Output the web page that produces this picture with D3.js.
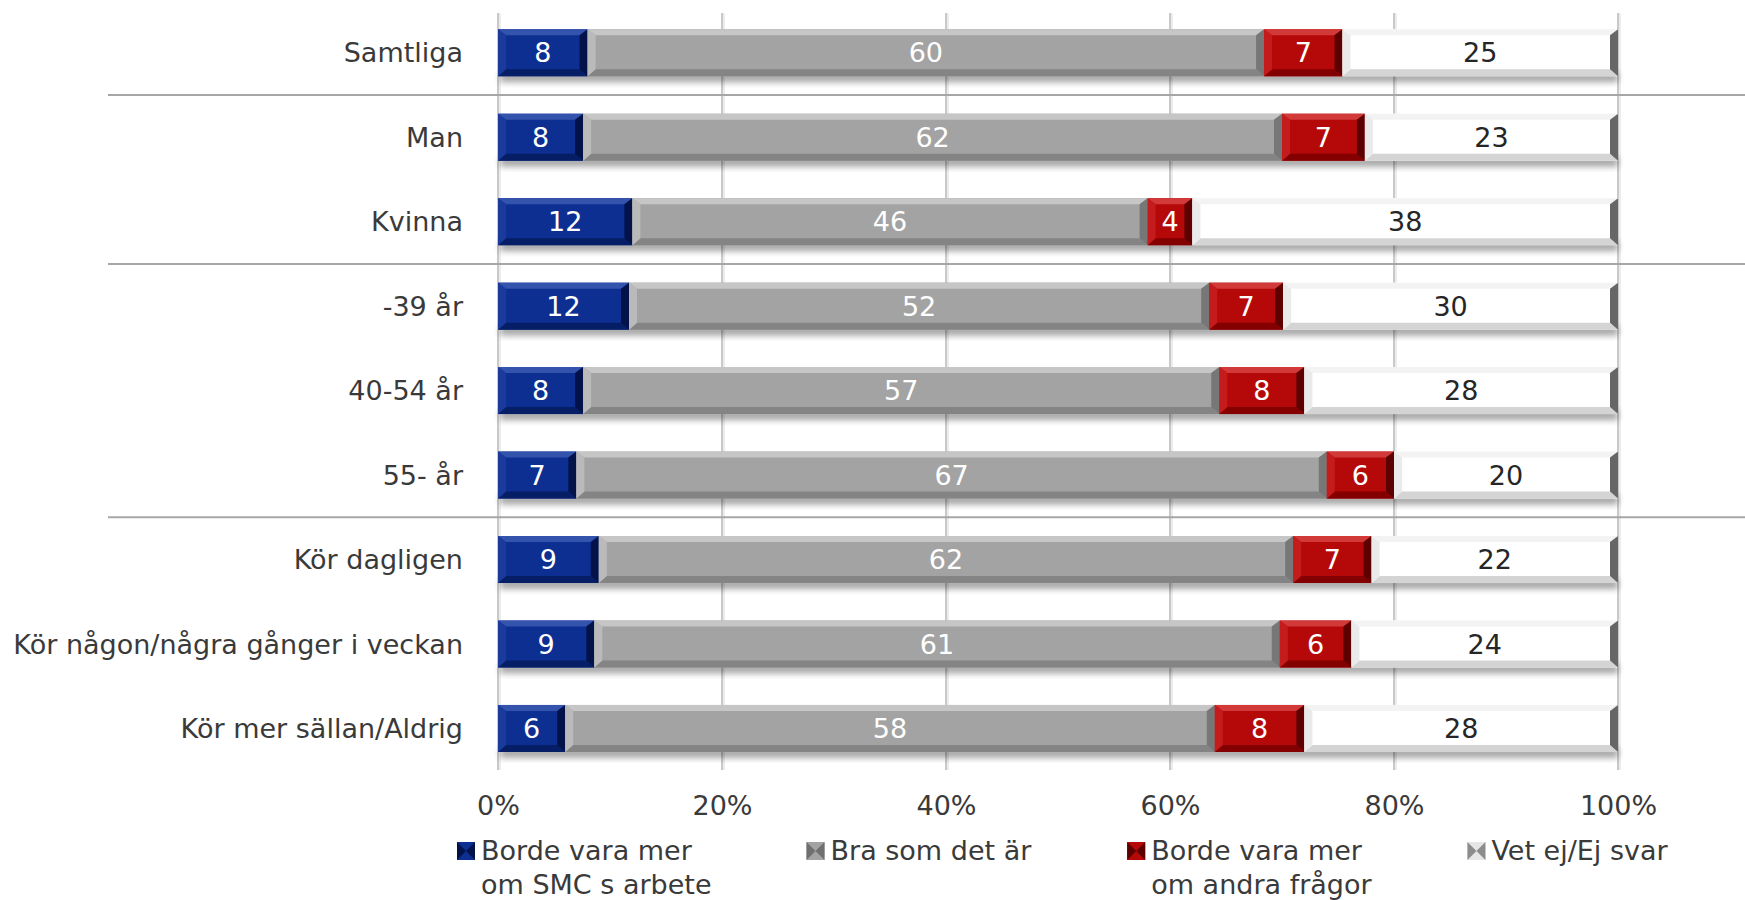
<!DOCTYPE html>
<html>
<head>
<meta charset="utf-8">
<script src="https://cdn.jsdelivr.net/npm/d3@7"></script>
<style>
  html, body { margin: 0; padding: 0; background: #ffffff; }
  svg { display: block; font-family: "DejaVu Sans", Verdana, sans-serif; }
</style>
</head>
<body>
<svg id="chart" width="1745" height="900"></svg>
<script>
// ---- data -------------------------------------------------------------
const categories = [
  "Samtliga", "Man", "Kvinna", "-39 år", "40-54 år", "55- år",
  "Kör dagligen", "Kör någon/några gånger i veckan", "Kör mer sällan/Aldrig"
];
const seriesLabels = [
  ["Borde vara mer", "om SMC s arbete"],
  ["Bra som det är"],
  ["Borde vara mer", "om andra frågor"],
  ["Vet ej/Ej svar"]
];
const moreAboutSmc   = [8, 7.6, 12, 11.7, 7.6, 7, 9, 8.6, 6];
const goodAsItIs     = [60.4, 62.4, 46, 51.8, 56.8, 67, 62, 61.2, 58];
const moreOtherIssue = [7, 7.4, 4, 6.6, 7.6, 6, 7, 6.4, 8];
const dontKnow       = [24.6, 22.6, 38, 29.9, 28, 20, 22, 23.8, 28];
const groupEnds = ["Samtliga", "Kvinna", "55- år"];   // a rule is drawn below these rows
const tickValues = [0, 20, 40, 60, 80, 100];

// ---- palettes for the bevelled segments ------------------------------
const palettes = [
  { base: "#0c2f91", top: "#3453ad", bottom: "#061e66", left: "#1b3b9c", right: "#03134a", text: "#ffffff" },
  { base: "#a3a3a3", top: "#c6c6c6", bottom: "#848484", left: "#bababa", right: "#777777", text: "#ffffff" },
  { base: "#b50909", top: "#d23a3a", bottom: "#840000", left: "#c41c1c", right: "#5c0000", text: "#ffffff" },
  { base: "#ffffff", top: "#f3f3f3", bottom: "#d4d4d4", left: "#eaeaea", right: "#666666", text: "#262626" }
];
const legendIcons = [
  { base: "#0c2f91", side: "#03134a" },
  { base: "#a3a3a3", side: "#6f6f6f" },
  { base: "#b50909", side: "#5c0000" },
  { base: "#e6e6e6", side: "#8c8c8c" }
];
const keys = ["s0", "s1", "s2", "s3"];
const rows = categories.map((c, i) => ({
  cat: c, s0: moreAboutSmc[i], s1: goodAsItIs[i], s2: moreOtherIssue[i], s3: dontKnow[i]
}));

const svg = d3.select("#chart");
const textColor = "#3a3a3a";
const fontSize = 27;

const x = d3.scaleLinear().domain([0, 100]).range([498, 1618]);
const y = d3.scaleBand().domain(categories).range([10.5, 770.7])
  .paddingInner(0.4435).paddingOuter(0.222);
const bw = y.bandwidth();

// ---- defs --------------------------------------------------------------
const defs = svg.append("defs");
const blur = defs.append("filter").attr("id", "soft").attr("x", "-5%").attr("y", "-50%")
  .attr("width", "110%").attr("height", "200%");
blur.append("feGaussianBlur").attr("stdDeviation", 3);

// ---- gridlines -------------------------------------------------------
const grid = svg.append("g");
grid.selectAll("line.g2").data(tickValues).join("line")
  .attr("x1", d => x(d) + 2).attr("x2", d => x(d) + 2)
  .attr("y1", 13).attr("y2", 770)
  .attr("stroke", "#ececec").attr("stroke-width", 2);
grid.selectAll("line.g1").data(tickValues).join("line")
  .attr("x1", d => x(d)).attr("x2", d => x(d))
  .attr("y1", 13).attr("y2", 770)
  .attr("stroke", "#c9c9c9").attr("stroke-width", 2);

// ---- group separators --------------------------------------------------
const step = y.step();
svg.append("g").selectAll("line").data(groupEnds).join("line")
  .attr("x1", 108).attr("x2", 1745)
  .attr("y1", d => y(d) + bw + (step - bw) / 2)
  .attr("y2", d => y(d) + bw + (step - bw) / 2)
  .attr("stroke", "#a6a6a6").attr("stroke-width", 2);

// ---- bars ------------------------------------------------------------
const stacked = d3.stack().keys(keys)(rows);

// soft shadow under each row of bars
svg.append("g").selectAll("rect").data(rows).join("rect")
  .attr("x", x(0) + 2)
  .attr("width", d => x(d3.sum(keys, k => d[k])) - x(0) - 2)
  .attr("y", d => y(d.cat) + bw - 4)
  .attr("height", 10)
  .attr("fill", "#000").attr("opacity", 0.35)
  .attr("filter", "url(#soft)");

const bx = 8, bt = 6, bb = 7;
const pts = a => a.map(p => p.join(",")).join(" ");

stacked.forEach((layer, li) => {
  const pal = palettes[li];
  const g = svg.append("g");
  const seg = g.selectAll("g").data(layer).join("g");
  const geom = d => {
    const x0 = x(d[0]), x1 = x(d[1]);
    const y0 = y(d.data.cat), y1 = y0 + bw;
    return { x0, x1, y0, y1 };
  };
  seg.append("rect")
    .attr("x", d => geom(d).x0).attr("y", d => geom(d).y0)
    .attr("width", d => geom(d).x1 - geom(d).x0).attr("height", bw)
    .attr("fill", pal.base);
  seg.append("polygon").attr("fill", pal.top).attr("points", d => {
    const { x0, x1, y0 } = geom(d);
    return pts([[x0, y0], [x1, y0], [x1 - bx, y0 + bt], [x0 + bx, y0 + bt]]);
  });
  seg.append("polygon").attr("fill", pal.bottom).attr("points", d => {
    const { x0, x1, y1 } = geom(d);
    return pts([[x0, y1], [x1, y1], [x1 - bx, y1 - bb], [x0 + bx, y1 - bb]]);
  });
  seg.append("polygon").attr("fill", pal.left).attr("points", d => {
    const { x0, y0, y1 } = geom(d);
    return pts([[x0, y0], [x0 + bx, y0 + bt], [x0 + bx, y1 - bb], [x0, y1]]);
  });
  seg.append("polygon").attr("fill", pal.right).attr("points", d => {
    const { x1, y0, y1 } = geom(d);
    return pts([[x1, y0], [x1 - bx, y0 + bt], [x1 - bx, y1 - bb], [x1, y1]]);
  });
  seg.append("text")
    .attr("x", d => (geom(d).x0 + geom(d).x1) / 2)
    .attr("y", d => geom(d).y0 + bw / 2)
    .attr("dy", "0.36em")
    .attr("text-anchor", "middle")
    .attr("font-size", fontSize)
    .attr("fill", pal.text)
    .text(d => d3.format(".0f")(d[1] - d[0]));
});

// ---- category labels ----------------------------------------------------
svg.append("g").selectAll("text").data(categories).join("text")
  .attr("x", 463)
  .attr("y", d => y(d) + bw / 2)
  .attr("dy", "0.36em")
  .attr("text-anchor", "end")
  .attr("font-size", fontSize)
  .attr("fill", textColor)
  .text(d => d);

// ---- x axis labels ---------------------------------------------------
const xAxis = d3.axisBottom(x).tickValues(tickValues).tickFormat(d => d + "%").tickSize(0).tickPadding(0);
const ax = svg.append("g").attr("transform", "translate(0,789)").call(xAxis);
ax.select(".domain").remove();
ax.selectAll("text")
  .attr("font-size", fontSize)
  .attr("font-family", "DejaVu Sans, Verdana, sans-serif")
  .attr("fill", textColor)
  .attr("dy", "0.95em");

// ---- legend ------------------------------------------------------------
const legend = svg.append("g");
let lx = 457;
seriesLabels.forEach((lines, i) => {
  const ic = legendIcons[i];
  const item = legend.append("g").attr("transform", `translate(${lx},842)`);
  const s = 18;
  item.append("rect").attr("width", s).attr("height", s).attr("fill", ic.base);
  item.append("polygon").attr("points", pts([[0, 0], [s / 2, s / 2], [0, s]])).attr("fill", ic.side);
  item.append("polygon").attr("points", pts([[s, 0], [s / 2, s / 2], [s, s]])).attr("fill", ic.side);
  const t = item.append("text")
    .attr("x", s + 6)
    .attr("font-size", fontSize)
    .attr("fill", textColor);
  lines.forEach((ln, j) => {
    t.append("tspan").attr("x", s + 6).attr("y", 18 + j * 34).text(ln);
  });
  const w = t.node().getBBox().width;
  lx += s + 6 + w + 95;
});
</script>
</body>
</html>
